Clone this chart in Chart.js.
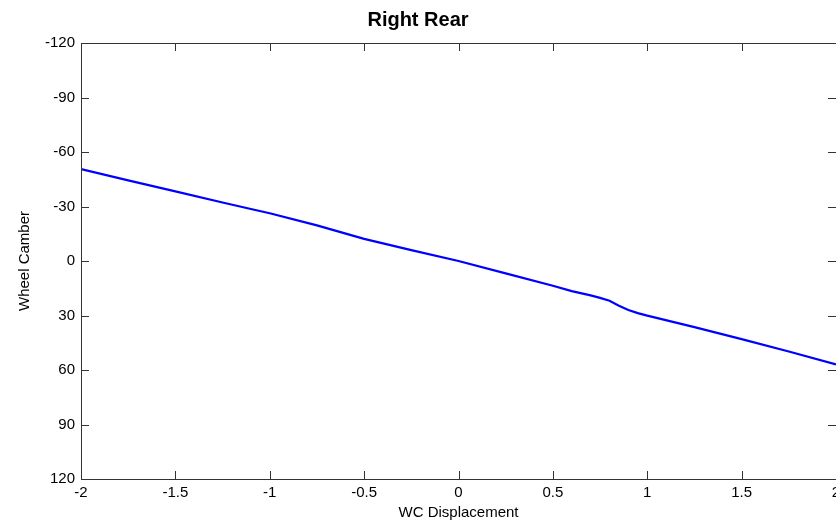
<!DOCTYPE html>
<html>
<head>
<meta charset="utf-8">
<script src="https://cdn.jsdelivr.net/npm/chart.js@4/dist/chart.umd.min.js"></script>
<style>
  html, body { margin: 0; padding: 0; background: #fff; }
  #wrap { width: 836px; height: 523px; }
</style>
</head>
<body>
<div id="wrap"><canvas id="camberChart" width="836" height="523"></canvas></div>
<script>
// wheel camber vs. wheel centre displacement
const displacement = [-2, -1.75, -1.5, -1.25, -1.1, -1, -0.75, -0.5, -0.25, 0, 0.25, 0.5, 0.6, 0.7, 0.75, 0.8, 0.85, 0.9, 0.95, 1, 1.25, 1.5, 1.75, 2];
const camber = [-50.6, -44.4, -38.3, -32.2, -28.6, -26.3, -19.6, -12.2, -6.0, 0, 6.8, 13.6, 16.6, 18.9, 20.3, 21.9, 24.6, 27.0, 28.7, 30.1, 36.4, 43.0, 49.8, 56.9];

const xTicks = [-2, -1.5, -1, -0.5, 0, 0.5, 1, 1.5, 2];
const yTicks = [-120, -90, -60, -30, 0, 30, 60, 90, 120];

const AXIS_COLOR = "#333333";
const TICK_LEN = 8;

/**
 * MATLAB style frame: full box with tick marks pointing inwards on all four sides.
 */
const frameBox = {
  id: "frameBox",
  afterDraw(chart) {
    const { ctx, chartArea: a, scales } = chart;
    ctx.save();
    ctx.strokeStyle = AXIS_COLOR;
    ctx.lineWidth = 1;
    ctx.strokeRect(a.left + 0.5, a.top + 0.5, a.right - a.left, a.bottom - a.top);
    ctx.beginPath();
    xTicks.forEach((v) => {
      const px = Math.round(scales.x.getPixelForValue(v)) + 0.5;
      ctx.moveTo(px, a.bottom);
      ctx.lineTo(px, a.bottom - TICK_LEN);
      ctx.moveTo(px, a.top);
      ctx.lineTo(px, a.top + TICK_LEN);
    });
    yTicks.forEach((v) => {
      const py = Math.round(scales.y.getPixelForValue(v)) + 0.5;
      ctx.moveTo(a.left, py);
      ctx.lineTo(a.left + TICK_LEN, py);
      ctx.moveTo(a.right, py);
      ctx.lineTo(a.right - TICK_LEN, py);
    });
    ctx.stroke();
    ctx.restore();
  },
};

const ctx = document.getElementById("camberChart").getContext("2d");
new Chart(ctx, {
  type: "line",
  data: {
    datasets: [
      {
        data: displacement.map((x, i) => ({ x: x, y: camber[i] })),
        borderColor: "#0000FF",
        borderWidth: 2.2,
        pointRadius: 0,
        tension: 0,
        fill: false,
      },
    ],
  },
  options: {
    responsive: false,
    animation: false,
    layout: { padding: { left: 0, right: 0, top: 0, bottom: 0 } },
    plugins: {
      legend: { display: false },
      tooltip: { enabled: false },
      title: {
        display: true,
        text: "Right Rear",
        color: "#000",
        font: { family: "Arial, 'Liberation Sans', sans-serif", size: 20, weight: "bold" },
        padding: { top: 8, bottom: 11 },
      },
    },
    scales: {
      x: {
        type: "linear",
        min: -2,
        max: 2,
        afterBuildTicks: (scale) => {
          scale.ticks = xTicks.map((v) => ({ value: v }));
        },
        afterFit: (scale) => {
          scale.height = 44;
          scale.paddingLeft = 0;
          scale.paddingRight = 0;
        },
        grid: { display: false, drawTicks: false },
        border: { display: false },
        ticks: {
          color: "#000",
          padding: 5,
          maxRotation: 0,
          autoSkip: false,
          font: { family: "Arial, 'Liberation Sans', sans-serif", size: 15 },
          callback: (v) => String(v),
        },
        title: {
          display: true,
          text: "WC Displacement",
          color: "#000",
          font: { family: "Arial, 'Liberation Sans', sans-serif", size: 15 },
          padding: { top: 0, bottom: 1 },
        },
      },
      y: {
        type: "linear",
        reverse: true,
        min: -120,
        max: 120,
        afterBuildTicks: (scale) => {
          scale.ticks = yTicks.map((v) => ({ value: v }));
        },
        afterFit: (scale) => {
          scale.width = 81;
          scale.paddingTop = 0;
          scale.paddingBottom = 0;
        },
        grid: { display: false, drawTicks: false },
        border: { display: false },
        ticks: {
          color: "#000",
          padding: 6,
          autoSkip: false,
          font: { family: "Arial, 'Liberation Sans', sans-serif", size: 15 },
          callback: (v) => String(v),
        },
        title: {
          display: true,
          text: "Wheel Camber",
          color: "#000",
          font: { family: "Arial, 'Liberation Sans', sans-serif", size: 15 },
          padding: { top: 16, bottom: 0 },
        },
      },
    },
  },
  plugins: [frameBox],
});
</script>
</body>
</html>
